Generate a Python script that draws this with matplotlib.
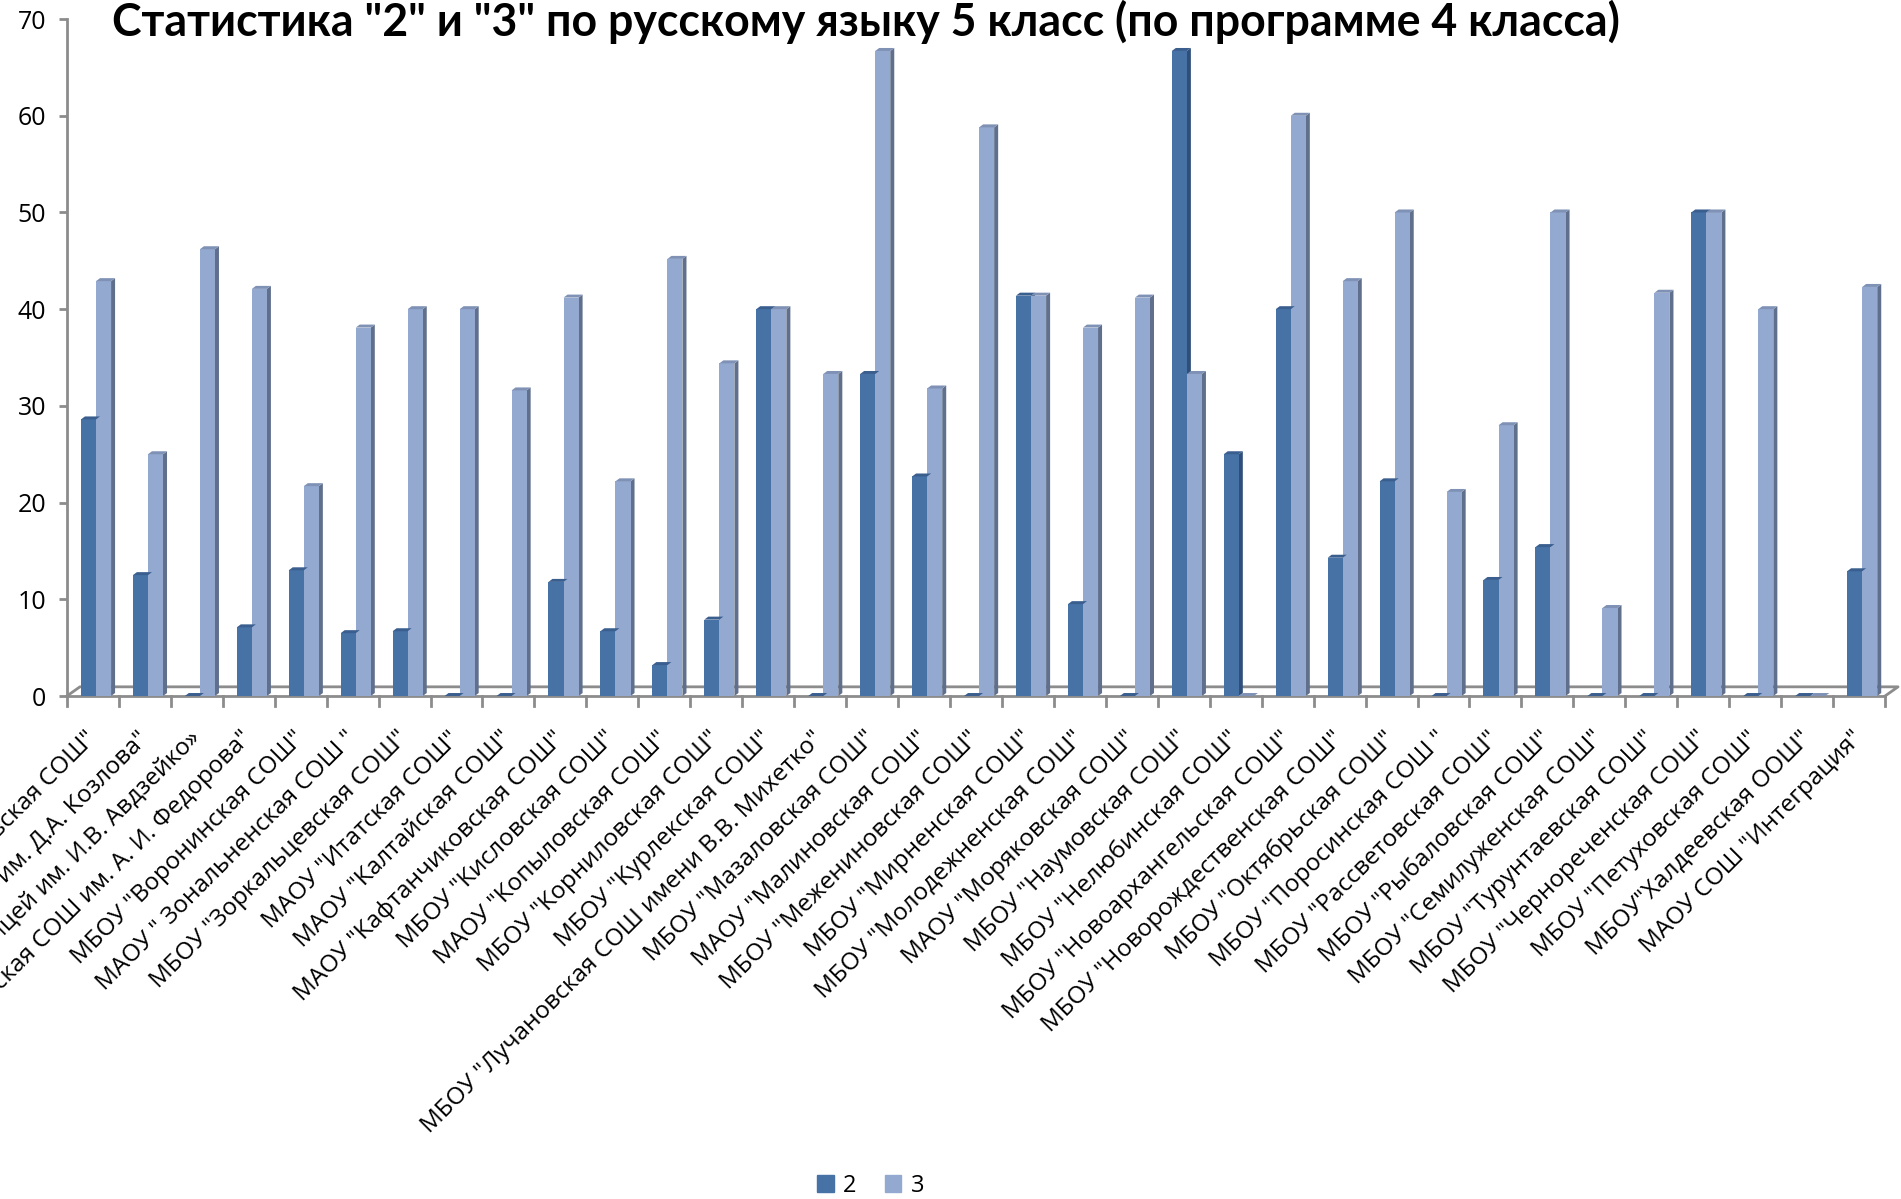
import numpy as np
import matplotlib
matplotlib.use('Agg')
import matplotlib.pyplot as plt
from matplotlib.patches import Patch

# Schools (x categories)
schools = [
    'МАОУ "Александровская СОШ"',
    'МБОУ "Спасская СОШ им. Д.А. Козлова"',
    'МАОУ «Лицей им. И.В. Авдзейко»',
    'МАОУ "Богашевская СОШ им. А. И. Федорова"',
    'МБОУ "Воронинская СОШ"',
    'МАОУ " Зональненская СОШ "',
    'МБОУ "Зоркальцевская СОШ"',
    'МАОУ "Итатская СОШ"',
    'МАОУ "Калтайская СОШ"',
    'МАОУ "Кафтанчиковская СОШ"',
    'МБОУ "Кисловская СОШ"',
    'МАОУ "Копыловская СОШ"',
    'МБОУ "Корниловская СОШ"',
    'МБОУ "Курлекская СОШ"',
    'МБОУ "Лучановская СОШ имени В.В. Михетко"',
    'МБОУ "Мазаловская СОШ"',
    'МАОУ "Малиновская СОШ"',
    'МБОУ "Межениновская СОШ"',
    'МБОУ "Мирненская СОШ"',
    'МБОУ "Молодежненская СОШ"',
    'МАОУ "Моряковская СОШ"',
    'МБОУ "Наумовская СОШ"',
    'МБОУ "Нелюбинская СОШ"',
    'МБОУ "Новоархангельская СОШ"',
    'МБОУ "Новорождественская СОШ"',
    'МБОУ "Октябрьская СОШ"',
    'МБОУ "Поросинская СОШ "',
    'МБОУ "Рассветовская СОШ"',
    'МБОУ "Рыбаловская СОШ"',
    'МБОУ "Семилуженская СОШ"',
    'МБОУ "Турунтаевская СОШ"',
    'МБОУ "Чернореченская СОШ"',
    'МБОУ "Петуховская СОШ"',
    'МБОУ"Халдеевская ООШ"',
    'МАОУ СОШ "Интеграция"',
]

# percent of "2" and "3"
grade2 = [28.6, 12.5, 0, 7.1, 13.0, 6.5, 6.7, 0, 0, 11.8, 6.7, 3.2, 7.9, 40.0,
          0, 33.3, 22.7, 0, 41.4, 9.5, 0, 66.7, 25.0, 40.0, 14.3, 22.2, 0,
          12.0, 15.4, 0, 0, 50.0, 0, 0, 12.9]
grade3 = [42.9, 25.0, 46.2, 42.1, 21.7, 38.1, 40.0, 40.0, 31.6, 41.2, 22.2, 45.2,
          34.4, 40.0, 33.3, 66.7, 31.8, 58.8, 41.4, 38.1, 41.2, 33.3, 0, 60.0,
          42.9, 50.0, 21.1, 28.0, 50.0, 9.1, 41.7, 50.0, 40.0, 0, 42.3]

title = 'Статистика "2" и "3" по русскому языку 5 класс (по программе 4 класса)'

plt.rcParams['font.family'] = ['Open Sans', 'DejaVu Sans']

colors = {'2': ('#4672A6', '#2F4E79', '#3A5F8F'),
          '3': ('#94A9D0', '#5F6F8C', '#7F92B6')}

fig = plt.figure(figsize=(19.01, 11.99), dpi=100)
ax = fig.add_axes([0.0352, 0.4195, 0.9564, 0.5646])

n = len(schools)
x = np.arange(n)
bw = 0.29
dx, dy = 0.077, 0.31


def draw_series(offset, vals, cols):
    front, side, top = cols
    ax.bar(x + offset, vals, width=bw, align='edge', color=front, zorder=3)
    for xi, v in zip(x + offset, vals):
        x1 = xi + bw
        ax.fill([x1, x1 + dx, x1 + dx, x1], [0, dy, v + dy, v], color=side, zorder=2, lw=0)
        ax.fill([xi, x1, x1 + dx, xi + dx], [v, v, v + dy, v + dy], color=top, zorder=4, lw=0)


draw_series(0.27, grade2, colors['2'])
draw_series(0.56, grade3, colors['3'])

# floor
fdx, fdy = 0.25, 0.95
ax.plot([0, fdx, n + fdx, n], [0, fdy, fdy, 0], color='#8C8C8C', lw=2, zorder=1, clip_on=False)

ax.set_xlim(0, n)
ax.set_ylim(0, 70)
ax.set_yticks(range(0, 71, 10))
ax.set_xticks(x + 0.5)
ax.set_xticklabels(schools, rotation=45, ha='right', va='center', rotation_mode='anchor',
                   fontsize=17.5)
ax.tick_params(axis='x', length=0, pad=28)
ax.tick_params(axis='y', labelsize=18, length=6, width=2, color='#8C8C8C', pad=9)
# boundary ticks between groups
for b in range(n + 1):
    ax.plot([b, b], [0, -1.0], color='#8C8C8C', lw=2, clip_on=False, zorder=1)

for s in ['top', 'right']:
    ax.spines[s].set_visible(False)
for s in ['left', 'bottom']:
    ax.spines[s].set_color('#8C8C8C')
    ax.spines[s].set_linewidth(2)

# title: fit to the width it has in the original (about 1500 px)
t = fig.text(0.4557, 1 - 36 / 1199, title, ha='center', va='baseline', fontsize=30,
             fontweight='bold', family=['Lato', 'DejaVu Sans'])
renderer = fig.canvas.get_renderer()
w = t.get_window_extent(renderer).width
t.set_fontsize(30 * 1503 / w)

handles = [Patch(color=colors['2'][0], label='2'), Patch(color=colors['3'][0], label='3')]
fig.legend(handles=handles, loc='center', bbox_to_anchor=(0.458, 1 - 1186 / 1199), ncol=2,
           frameon=False, fontsize=17, handlelength=0.7, handleheight=0.7,
           handletextpad=0.4, columnspacing=1.2)

fig.savefig('out.png', dpi=100)
